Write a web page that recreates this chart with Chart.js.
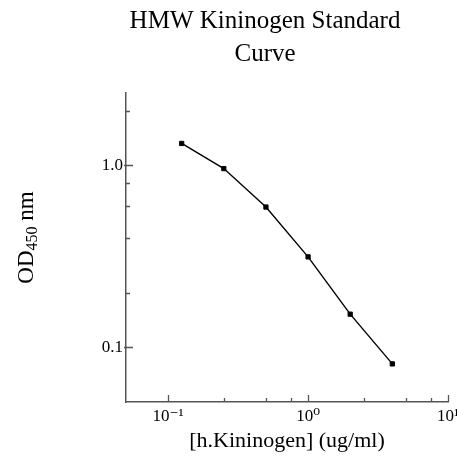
<!DOCTYPE html>
<html>
<head>
<meta charset="utf-8">
<script src="https://cdn.jsdelivr.net/npm/chart.js@4.4.1/dist/chart.umd.min.js"></script>
<style>
  html, body { margin: 0; padding: 0; background: #fff; overflow: hidden; }
  #wrap { width: 457px; height: 458px; }
</style>
</head>
<body>
<div id="wrap"><canvas id="cvCurve"></canvas></div>
<script>
// standard curve data (concentration in ug/ml, OD at 450 nm)
var concentration = [0.125, 0.25, 0.5, 1, 2, 4];
var od450 = [1.32, 0.96, 0.59, 0.314, 0.152, 0.081];

// axis ticks
var xMajorTicks = [0.1, 1, 10];
var xTickLabels = ["10\u207B\u00B9", "10\u2070", "10\u00B9"];
var xMinorTicks = [0.25, 0.5, 0.75, 2.5, 5, 7.5];
var yMajorTicks = [0.1, 1];
var yTickLabels = ["0.1", "1.0"];
var yMinorTicks = [0.2, 0.4, 0.6, 0.8, 2];

var titleLines = ["HMW Kininogen Standard", "Curve"];
var serif = '"Liberation Serif", "DejaVu Serif", serif';
var axisColor = "#555";

// draws inward tick marks, the title and the y axis title (it has a subscript)
var decorPlugin = {
    id: "decor",
    afterDraw: function (chart) {
        var ctx = chart.ctx;
        var area = chart.chartArea;
        var xs = chart.scales.x;
        var ys = chart.scales.y;
        ctx.save();
        ctx.strokeStyle = axisColor;
        ctx.lineWidth = 1.3;
        ctx.beginPath();
        xMajorTicks.forEach(function (v) {
            var px = Math.round(xs.getPixelForValue(v)) + 0.5;
            ctx.moveTo(px, area.bottom); ctx.lineTo(px, area.bottom - 7);
        });
        xMinorTicks.forEach(function (v) {
            var px = Math.round(xs.getPixelForValue(v)) + 0.5;
            ctx.moveTo(px, area.bottom); ctx.lineTo(px, area.bottom - 4);
        });
        yMajorTicks.forEach(function (v) {
            var py = Math.round(ys.getPixelForValue(v)) + 0.5;
            ctx.moveTo(area.left - 2, py); ctx.lineTo(area.left + 7, py);
        });
        yMinorTicks.forEach(function (v) {
            var py = Math.round(ys.getPixelForValue(v)) + 0.5;
            ctx.moveTo(area.left, py); ctx.lineTo(area.left + 4, py);
        });
        ctx.stroke();

        // title
        ctx.fillStyle = "#000";
        ctx.textAlign = "center";
        ctx.textBaseline = "alphabetic";
        ctx.font = "25px " + serif;
        var cx = (area.left + area.right) / 2 - 22;
        ctx.fillText(titleLines[0], cx, 28);
        ctx.fillText(titleLines[1], cx, 61);

        // y axis title: OD450 nm, rotated
        ctx.translate(33, (area.top + area.bottom) / 2 - 10);
        ctx.rotate(-Math.PI / 2);
        ctx.textAlign = "left";
        var big = "23px " + serif, small = "16px " + serif;
        ctx.font = big;
        var w1 = ctx.measureText("OD").width;
        var w3 = ctx.measureText(" nm").width;
        ctx.font = small;
        var w2 = ctx.measureText("450").width;
        var x0 = -(w1 + w2 + w3) / 2;
        ctx.font = big;
        ctx.fillText("OD", x0, 0);
        ctx.font = small;
        ctx.fillText("450", x0 + w1, 4);
        ctx.font = big;
        ctx.fillText(" nm", x0 + w1 + w2, 0);
        ctx.restore();
    }
};

var points = concentration.map(function (c, i) { return { x: c, y: od450[i] }; });

new Chart(document.getElementById("cvCurve"), {
    type: "line",
    data: {
        datasets: [{
            data: points,
            borderColor: "#000",
            borderWidth: 1.4,
            backgroundColor: "#000",
            pointStyle: "rect",
            pointRadius: 3,
            pointBorderWidth: 1,
            tension: 0,
            fill: false
        }]
    },
    options: {
        responsive: true,
        maintainAspectRatio: false,
        animation: false,
        devicePixelRatio: 1,
        layout: { padding: { top: 93, right: 9, left: 0, bottom: 0 } },
        plugins: {
            legend: { display: false },
            tooltip: { enabled: false },
            title: { display: false }
        },
        scales: {
            x: {
                type: "logarithmic",
                min: 0.05,
                max: 10,
                grid: { display: false, drawTicks: false },
                border: { display: true, color: axisColor, width: 1.5 },
                afterBuildTicks: function (scale) {
                    scale.ticks = xMajorTicks.map(function (v) { return { value: v }; });
                },
                afterFit: function (scale) {
                    scale.height = 56;
                    scale.paddingLeft = 0;
                    scale.paddingRight = 0;
                },
                ticks: {
                    autoSkip: false,
                    maxRotation: 0,
                    padding: 4,
                    color: "#000",
                    font: { family: serif, size: 17 },
                    callback: function (value, index) { return xTickLabels[index]; }
                },
                title: {
                    display: true,
                    text: "[h.Kininogen] (ug/ml)",
                    color: "#000",
                    font: { family: serif, size: 22 },
                    padding: { top: 0, bottom: 4 }
                }
            },
            y: {
                type: "logarithmic",
                min: 0.05,
                max: 2.5,
                grid: { display: false, drawTicks: false },
                border: { display: true, color: axisColor, width: 1.5 },
                afterBuildTicks: function (scale) {
                    scale.ticks = yMajorTicks.map(function (v) { return { value: v }; });
                },
                afterFit: function (scale) {
                    scale.width = 126;
                    scale.paddingTop = 0;
                    scale.paddingBottom = 0;
                },
                ticks: {
                    autoSkip: false,
                    padding: 3,
                    color: "#000",
                    font: { family: serif, size: 17 },
                    callback: function (value, index) { return yTickLabels[index]; }
                }
            }
        }
    },
    plugins: [decorPlugin]
});
</script>
</body>
</html>
